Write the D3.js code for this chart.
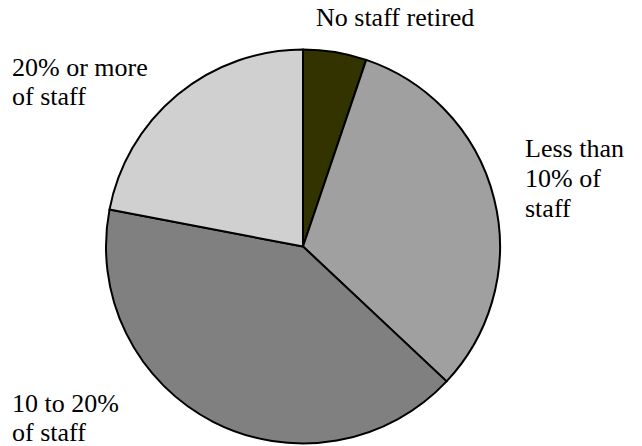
<!DOCTYPE html>
<html>
<head>
<meta charset="utf-8">
<script src="https://cdn.jsdelivr.net/npm/d3@7/dist/d3.min.js"></script>
<style>
  html, body { margin: 0; padding: 0; background: #fff; }
  svg text { font-family: "Liberation Serif", "Times New Roman", serif; fill: #000; }
</style>
</head>
<body>
<svg id="chart" width="642" height="446"></svg>
<script>
// Share of staff retired, by category (percent)
const categories = ["No staff retired", "Less than 10% of staff", "10 to 20% of staff", "20% or more of staff"];
const shares = [5.2, 31.8, 41.0, 22.0];
const fills = ["#333300", "#a0a0a0", "#808080", "#d0d0d0"];

// Multi-line label text for each slice
const labelLines = [
  ["No staff retired"],
  ["Less than", "10% of", "staff"],
  ["10 to 20%", "of staff"],
  ["20% or more", "of staff"]
];

const width = 642, height = 446;
const cx = 303, cy = 246.5, radius = 197;

const svg = d3.select("#chart");
const g = svg.append("g").attr("transform", `translate(${cx},${cy})`);

const pie = d3.pie().sort(null).value(d => d).startAngle(0).endAngle(2 * Math.PI);
const arc = d3.arc().innerRadius(0).outerRadius(radius);

const data = pie(shares);

g.selectAll("path.slice")
  .data(data)
  .join("path")
  .attr("class", "slice")
  .attr("d", arc)
  .attr("fill", (d, i) => fills[i])
  .attr("stroke", "#000")
  .attr("stroke-width", 2)
  .attr("stroke-linejoin", "round");

// Label anchor positions (baseline of first line) and line spacing
const labelPos = [
  { x: 316, y: 26, gap: 29.5 },
  { x: 525, y: 157, gap: 30 },
  { x: 12, y: 412, gap: 28.5 },
  { x: 12, y: 76, gap: 29 }
];

const labels = svg.append("g").attr("font-size", 26);
labelLines.forEach((lines, i) => {
  const p = labelPos[i];
  const t = labels.append("text")
    .attr("x", p.x)
    .attr("y", p.y);
  lines.forEach((ln, j) => {
    t.append("tspan")
      .attr("x", p.x)
      .attr("dy", j === 0 ? 0 : p.gap)
      .text(ln);
  });
});
</script>
</body>
</html>
